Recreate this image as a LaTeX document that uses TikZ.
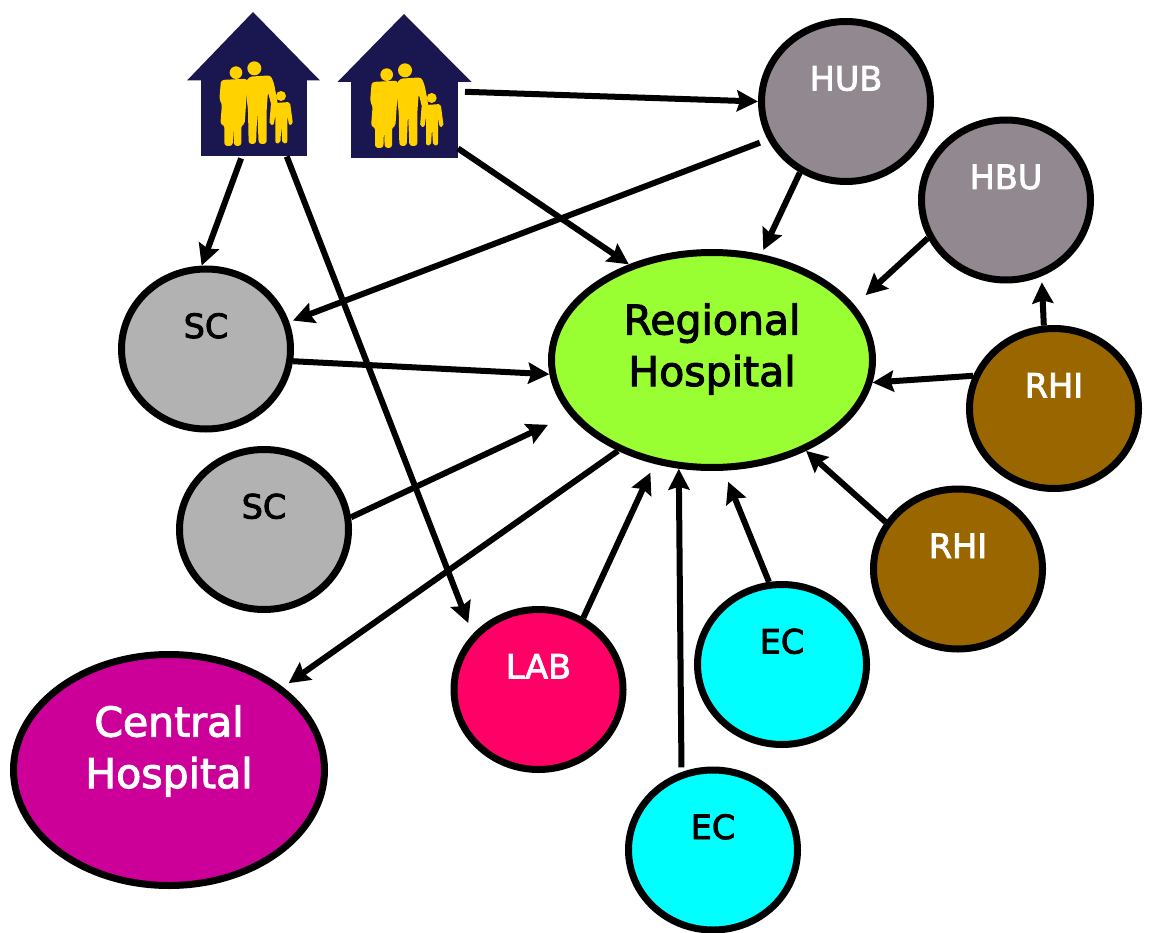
\documentclass[tikz,border=0pt]{standalone}
\usepackage{fontspec}
\usetikzlibrary{arrows.meta,shapes.geometric}
\newfontfamily\bigfont[FakeBold=2.5]{DejaVu Sans}
\newfontfamily\smallfont[FakeBold=2.5]{DejaVu Sans}
\definecolor{navy}{HTML}{1A1650}
\definecolor{famyellow}{HTML}{FFD200}
\definecolor{hubgray}{HTML}{928890}
\definecolor{scgray}{HTML}{B2B2B2}
\definecolor{rhgreen}{HTML}{99FF33}
\definecolor{rhibrown}{HTML}{996600}
\definecolor{labred}{HTML}{FF0066}
\definecolor{chpurple}{HTML}{CC0099}
\definecolor{eccyan}{HTML}{00FFFF}
\newcommand{\smalltxt}[1]{\raisebox{11pt}[0pt][0pt]{#1}}
\newcommand{\twolines}[3]{\raisebox{#1}[0pt][0pt]{\makebox[0pt]{\parbox[b]{300pt}{\fontsize{41}{51.5}\selectfont\centering #2\\#3}}}}
\tikzset{
  unit/.style={ellipse,draw=black,line width=7pt,minimum width=169pt,minimum height=160pt,inner sep=0pt,font=\smallfont\fontsize{33.5}{40}\selectfont},
  hospital/.style={ellipse,draw=black,line width=7pt,inner sep=0pt,font=\bigfont},
  housebody/.style={rectangle,fill=navy,inner sep=0pt,outer sep=0pt},
  conn/.style={line width=6pt,-{Stealth[length=21pt,width=21pt,inset=3pt]}},
  family/.pic={
    \begin{scope}[x=0.3333pt,y=-0.3333pt,fill=famyellow,line join=round]
      % woman
      \fill (198,218) circle (19);
      \fill[rounded corners=3pt] (148,300) -- (153,240) -- (232,236) -- (229,300) -- (224,374) -- (214,374) -- (214,438) -- (192,438) -- (190,380) -- (188,438) -- (163,438) -- (163,374) -- (151,374) -- (156,310) -- cycle;
      % man
      \fill (253,205) circle (21);
      \fill[rounded corners=3pt] (225,250) -- (238,230) -- (302,226) -- (312,250) -- (326,325) -- (308,332) -- (294,275) -- (290,330) -- (290,432) -- (266,432) -- (262,335) -- (258,432) -- (236,432) -- (234,330) -- cycle;
      % child
      \fill (333,288) circle (15);
      \fill[rounded corners=2pt] (303,310) -- (360,306) -- (369,373) -- (357,376) -- (352,345) -- (352,430) -- (337,430) -- (334,378) -- (331,430) -- (316,430) -- (316,345) -- (311,376) -- (298,373) -- cycle;
    \end{scope}
  }
}
\begin{document}
\begin{tikzpicture}[x=1pt,y=-1pt]
\useasboundingbox (0,0) rectangle (1150,933);
% houses
\fill[navy] (187,80.5) -- (253,12) -- (320,80.5) -- cycle;
\node[housebody,minimum width=106pt,minimum height=76.5pt] (house1) at (253.5,118.25) {};
\fill[navy] (337.5,82) -- (404,14) -- (471.5,82) -- cycle;
\node[housebody,minimum width=107pt,minimum height=76pt] (house2) at (404.5,120) {};
\pic at (170,0) {family};
\pic at (320.7,2) {family};
% units
\node[unit,fill=hubgray,text=white] (hub) at (846,101.5) {\smalltxt{HUB}};
\node[unit,fill=hubgray,text=white] (hbu) at (1006,200) {\smalltxt{HBU}};
\node[unit,fill=scgray,text=black] (sca) at (206,349) {\smalltxt{SC}};
\node[unit,fill=scgray,text=black] (scb) at (264,529.5) {\smalltxt{SC}};
\node[unit,fill=rhibrown,text=white] (rhia) at (1054,408.5) {\smalltxt{RHI}};
\node[unit,fill=rhibrown,text=white] (rhib) at (958,569) {\smalltxt{RHI}};
\node[unit,fill=eccyan,text=black] (eca) at (782,664.5) {\smalltxt{EC}};
\node[unit,fill=eccyan,text=black] (ecb) at (713,850) {\smalltxt{EC}};
\node[unit,fill=labred,text=white] (lab) at (538.5,689.5) {\smalltxt{LAB}};
\node[hospital,fill=rhgreen,text=black,minimum width=321pt,minimum height=215pt] (rh) at (712,360) {\twolines{-26pt}{Regional}{Hospital}};
\node[hospital,fill=chpurple,text=white,minimum width=311pt,minimum height=231pt] (ch) at (169,770) {\twolines{-18pt}{Central}{Hospital}};
% connectors
\draw[conn,shorten <=7pt] (house2.28) -- (hub.180);
\draw[conn] (house2.-28) -- (rh.131.5);
\draw[conn,shorten <=2pt] (house1.253.8) -- (sca.93);
\draw[conn,shorten >=12pt] (house1.-49) -- (lab.140);
\draw[conn,shorten <=8.4pt,shorten >=4pt] (hub.206.8) -- (sca.18.7);
\draw[conn,shorten >=4.5pt] (hub.237.7) -- (rh.65.6);
\draw[conn,shorten >=15pt] (hbu.206.2) -- (rh.21.3);
\draw[conn,shorten >=6pt] (rhia.97.8) -- (hbu.-65.8);
\draw[conn] (rhia.158.9) -- (rh.-8.3);
\draw[conn] (rhib.147.2) -- (rh.-44.4);
\draw[conn,shorten >=12pt] (eca.99.7) -- (rh.-84.4);
\draw[conn,shorten <=4.7pt] (ecb.112.8) -- (rh.253);
\draw[conn,shorten >=9.6pt] (lab.58.3) -- (rh.241.8);
\draw[conn,shorten >=23.6pt] (scb.8.3) -- (rh.201.9);
\draw[conn] (sca.-8.7) -- (rh.185.2);
\draw[conn,shorten >=6.8pt] (rh.224.9) -- (ch.36.5);
\end{tikzpicture}
\end{document}
